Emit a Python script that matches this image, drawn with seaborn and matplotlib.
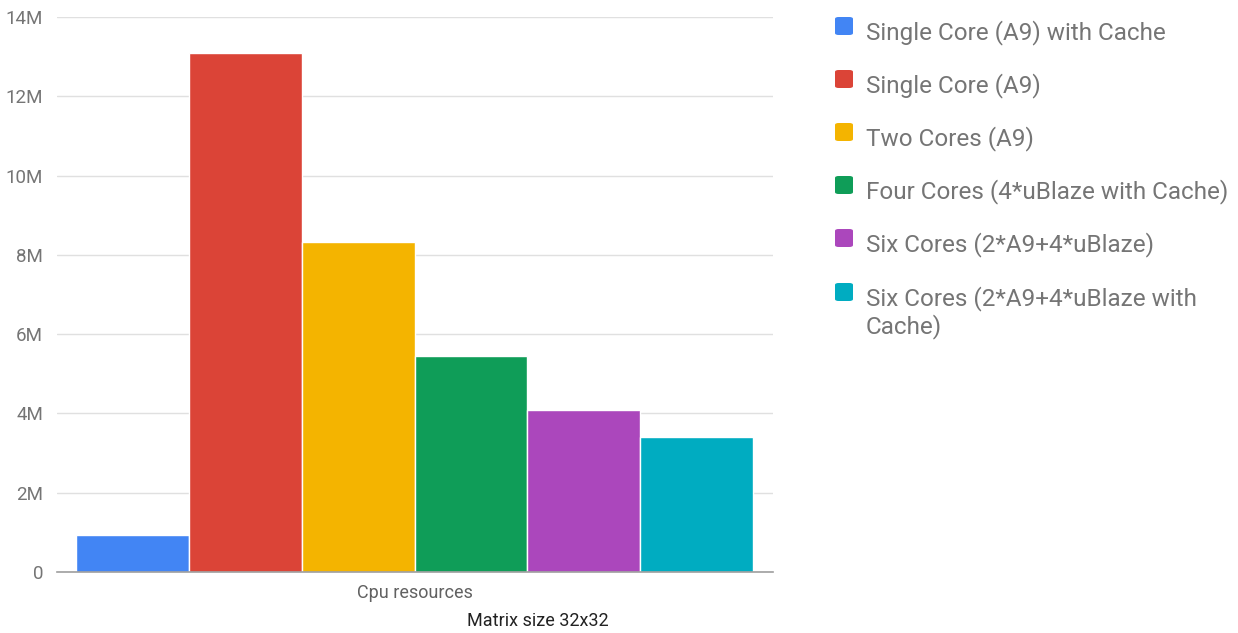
import matplotlib
matplotlib.use("Agg")
import matplotlib.pyplot as plt
from matplotlib.patches import FancyBboxPatch
from matplotlib.ticker import FuncFormatter, MultipleLocator
import seaborn as sns
import pandas as pd

# Execution time (cycles) per CPU configuration
configs = [
    "Single Core (A9) with Cache",
    "Single Core (A9)",
    "Two Cores (A9)",
    "Four Cores (4*uBlaze with Cache)",
    "Six Cores (2*A9+4*uBlaze)",
    "Six Cores (2*A9+4*uBlaze with Cache)",
]
legend_labels = [
    "Single Core (A9) with Cache",
    "Single Core (A9)",
    "Two Cores (A9)",
    "Four Cores (4*uBlaze with Cache)",
    "Six Cores (2*A9+4*uBlaze)",
    "Six Cores (2*A9+4*uBlaze with\nCache)",
]
values = [0.93e6, 13.09e6, 8.32e6, 5.45e6, 4.09e6, 3.41e6]
category = "Cpu resources"
colors = ["#4285F4", "#DB4437", "#F4B400", "#0F9D58", "#AB47BC", "#00ACC1"]

df = pd.DataFrame({"group": [category] * len(configs), "config": configs, "value": values})

sns.set_style("white")
plt.rcParams["font.family"] = ["Roboto", "DejaVu Sans"]

W, H = 1238, 633
fig = plt.figure(figsize=(W / 100, H / 100), dpi=100)
ax = fig.add_axes([57 / W, (H - 572) / H, (773 - 57) / W, (572 - 17) / H])

sns.barplot(data=df, x="group", y="value", hue="config", hue_order=configs,
            palette=colors, width=1.0, dodge=True, ax=ax, legend=False,
            edgecolor="white", linewidth=1.0, saturation=1)

ax.set_xlim(-0.5 - 19 / 677, 0.5 + 20 / 677)
ax.set_ylim(0, 14e6)
ax.yaxis.set_major_locator(MultipleLocator(2e6))
ax.yaxis.set_major_formatter(FuncFormatter(lambda v, p: "0" if v == 0 else f"{v/1e6:.0f}M"))
ax.grid(axis="y", color="#e0e0e0", linewidth=1)
ax.set_axisbelow(True)
for s in ["top", "right", "left"]:
    ax.spines[s].set_visible(False)
ax.spines["bottom"].set_color("#9e9e9e")
ax.spines["bottom"].set_linewidth(1.2)
ax.spines["bottom"].set_zorder(5)
ax.tick_params(axis="y", length=0, pad=10, labelsize=13.5, labelcolor="#757575")
ax.tick_params(axis="x", length=0, pad=9, labelsize=13, labelcolor="#616161")
ax.set_ylabel("")
ax.set_xlabel("Matrix size 32x32", fontsize=13, color="#222222")
ax.xaxis.set_label_coords((538 - 57) / (773 - 57), -0.072)
for lbl in ax.get_yticklabels():
    lbl.set_horizontalalignment("right")

# Legend on the right
row_y = [33, 86, 139, 192, 245, 299]
for c, lab, y in zip(colors, legend_labels, row_y):
    box = FancyBboxPatch((835 / W, (H - y - 2) / H), 18 / W, 18 / H,
                         boxstyle="round,pad=0,rounding_size=0.003",
                         transform=fig.transFigure, facecolor=c, edgecolor="none")
    fig.patches.append(box)
    fig.text(866 / W, (H - y + 13) / H, lab, fontsize=17.5, color="#757575",
             va="top", ha="left", linespacing=1.16)

fig.savefig("out.png", dpi=100)
